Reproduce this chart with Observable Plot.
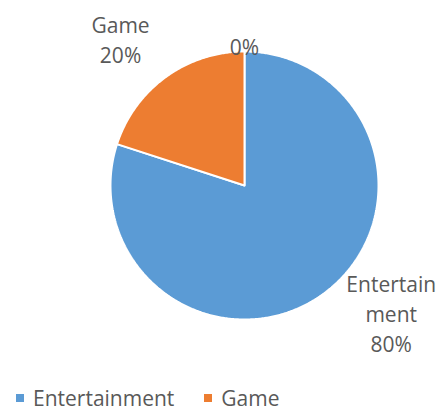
<!DOCTYPE html>
<html><head><meta charset="utf-8">
<script src="https://cdn.jsdelivr.net/npm/d3@7"></script>
<script src="https://cdn.jsdelivr.net/npm/@observablehq/plot@0.6"></script>
<style>
body{margin:0;background:#fff;font-family:"Open Sans",sans-serif;}
#chart{width:444px;height:413px;position:relative;overflow:hidden;}
.legend{position:absolute;left:16px;top:385px;display:flex;align-items:center;font-size:21px;color:#595959;line-height:26px;}
.legend .item{display:flex;align-items:center;margin-right:30px;}
.legend .sw{width:8px;height:8px;margin-right:9px;}
</style></head><body><div id="chart"></div>
<script>
const categories = ["Entertainment", "Game", ""];
const values = [80, 20, 0];
const colors = ["#5B9BD5", "#ED7D31", "#A5A5A5"];
const legendCategories = ["Entertainment", "Game"];

const total = d3.sum(values);
const arcs = d3.pie().sort(null).value(d => d)(values);

// slice polygons in unit-circle coordinates (clockwise from 12 o'clock)
const slices = [];
arcs.forEach((a, i) => {
  const span = a.endAngle - a.startAngle;
  if (span <= 0) return;
  const name = categories[i];
  slices.push({name, x: 0, y: 0});
  const n = Math.max(2, Math.ceil(span / (Math.PI / 360)));
  for (let k = 0; k <= n; k++) {
    const t = a.startAngle + span * k / n;
    slices.push({name, x: Math.sin(t), y: Math.cos(t)});
  }
  slices.push({name, x: 0, y: 0});
});

// label layout (best-fit positions, in radius units)
const labelPos = [[1.095, -0.95], [-0.925, 1.10], [0, 1.045]];
const labels = categories.map((c, i) => {
  const pct = Math.round(values[i] / total * 100) + "%";
  let text = pct;
  if (c === "Entertainment") text = "Entertain\nment\n" + pct;
  else if (c) text = c + "\n" + pct;
  return {text, x: labelPos[i][0], y: labelPos[i][1]};
});

const plot = Plot.plot({
  width: 444,
  height: 375,
  marginTop: 51,
  marginBottom: 56,
  marginLeft: 110,
  marginRight: 66,
  x: {domain: [-1, 1], axis: null},
  y: {domain: [-1, 1], axis: null},
  color: {domain: categories, range: colors},
  style: {fontFamily: "'Open Sans', sans-serif", background: "#fff"},
  marks: [
    Plot.line(slices, {x: "x", y: "y", z: "name", fill: "name", stroke: "#fff", strokeWidth: 2, strokeLinejoin: "miter"}),
    Plot.text(labels, {x: "x", y: "y", text: "text", fontSize: 21, lineHeight: 1.43, fill: "#595959"})
  ]
});
const chart = document.getElementById("chart");
chart.appendChild(plot);

const legend = document.createElement("div");
legend.className = "legend";
legendCategories.forEach(c => {
  const item = document.createElement("div");
  item.className = "item";
  const sw = document.createElement("span");
  sw.className = "sw";
  sw.style.background = colors[categories.indexOf(c)];
  item.appendChild(sw);
  item.appendChild(document.createTextNode(c));
  legend.appendChild(item);
});
chart.appendChild(legend);
</script>
</body></html>
